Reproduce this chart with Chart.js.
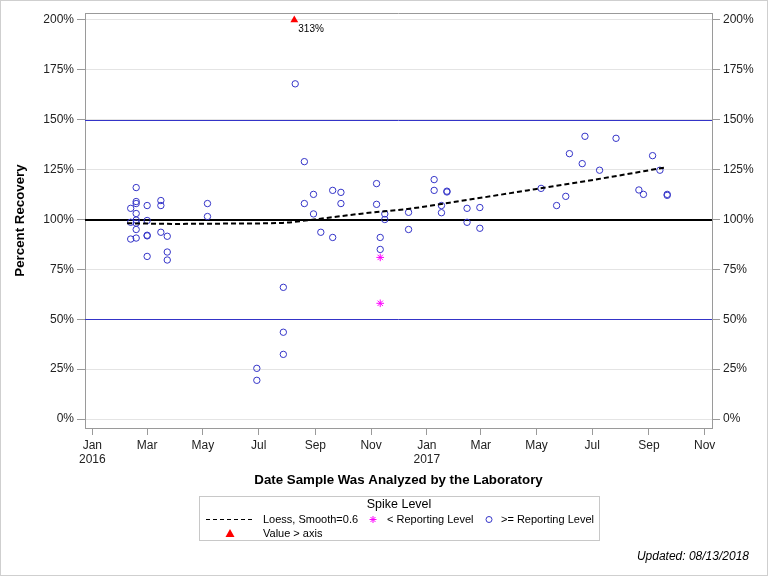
<!DOCTYPE html>
<html>
<head>
<meta charset="utf-8">
<script src="https://cdn.jsdelivr.net/npm/chart.js@4.4.1/dist/chart.umd.min.js"></script>
<style>
  html, body { margin: 0; padding: 0; background: #fff; }
</style>
</head>
<body>
<canvas id="chart" width="768" height="576"></canvas>
<script>
// percent recovery of spiked samples

// >= reporting level
const geDates = [
  '2016-02-12', '2016-02-12', '2016-02-12',
  '2016-02-18', '2016-02-18', '2016-02-18', '2016-02-18', '2016-02-18', '2016-02-18', '2016-02-18', '2016-02-18',
  '2016-03-01', '2016-03-01', '2016-03-01', '2016-03-01', '2016-03-01',
  '2016-03-16', '2016-03-16', '2016-03-16',
  '2016-03-23', '2016-03-23', '2016-03-23',
  '2016-05-06', '2016-05-06',
  '2016-06-29', '2016-06-29',
  '2016-07-28', '2016-07-28', '2016-07-28',
  '2016-08-10',
  '2016-08-20', '2016-08-20',
  '2016-08-30', '2016-08-30',
  '2016-09-07',
  '2016-09-20', '2016-09-20',
  '2016-09-29', '2016-09-29',
  '2016-11-07', '2016-11-07',
  '2016-11-11', '2016-11-11',
  '2016-11-16', '2016-11-16',
  '2016-12-12', '2016-12-12',
  '2017-01-09', '2017-01-09',
  '2017-01-17', '2017-01-17',
  '2017-01-23', '2017-01-23',
  '2017-02-14', '2017-02-14',
  '2017-02-28', '2017-02-28',
  '2017-05-06', '2017-05-23', '2017-06-02', '2017-06-06', '2017-06-20', '2017-06-23',
  '2017-07-09', '2017-07-27', '2017-08-21', '2017-08-26', '2017-09-05', '2017-09-13',
  '2017-09-21', '2017-09-21'
];
const geValues = [
  105.6, 98.6, 90.2,
  116, 109, 108, 103, 99.7, 98.2, 95, 90.7,
  107, 99.5, 92.1, 91.8, 81.5,
  109.5, 107, 93.6,
  91.6, 83.7, 79.7,
  108, 101.5,
  25.4, 19.4,
  66, 43.5, 32.4,
  168,
  129, 108,
  112.6, 102.8,
  93.6,
  114.6, 91,
  113.6, 108,
  118, 107.6,
  91, 85,
  102.8, 100,
  103.6, 95,
  120, 114.6,
  107, 103.4,
  114.2, 113.8,
  105.6, 98.6,
  106, 95.6,
  115.6, 107, 111.6, 133, 128, 141.7,
  124.7, 140.7, 114.8, 112.6, 132, 124.7,
  112.6, 112.1
];

// < reporting level
const ltDates = ['2016-11-11', '2016-11-11'];
const ltValues = [81, 58];

// values above the axis maximum
const overDates = ['2016-08-09'];
const overValues = [313];

// loess fit, smooth = 0.6
const loessDates = ['2016-02-08', '2016-04-01', '2016-06-09', '2016-07-27', '2016-08-25', '2016-10-19',
  '2016-11-10', '2016-12-11', '2017-02-14', '2017-03-21', '2017-05-05', '2017-07-08', '2017-09-20'];
const loessValues = [98.1, 97.8, 98.0, 98.3, 99.7, 102.8, 103.9, 105.3, 109.8, 112.3, 115.6, 120.3, 126.2];

const tickDates = ['2016-01-01', '2016-03-01', '2016-05-01', '2016-07-01', '2016-09-01', '2016-11-01',
  '2017-01-01', '2017-03-01', '2017-05-01', '2017-07-01', '2017-09-01', '2017-11-01'];
const tickLabels = [['Jan', '2016'], 'Mar', 'May', 'Jul', 'Sep', 'Nov', ['Jan', '2017'], 'Mar', 'May', 'Jul', 'Sep', 'Nov'];
const yTicks = [0, 25, 50, 75, 100, 125, 150, 175, 200];
const refLines = [50, 100, 150];

const legendLabels = ['Loess, Smooth=0.6', '< Reporting Level', '>= Reporting Level', 'Value > axis'];

// days since 2016-01-01
const day0 = Date.parse('2016-01-01');
const toDay = s => (Date.parse(s) - day0) / 86400000;
const pts = (ds, vs) => ds.map((d, i) => ({ x: toDay(d), y: vs[i] }));

const xMin = toDay('2015-12-24');
const xMax = toDay('2017-11-09');
const yMin = -4.5, yMax = 203.5;
const fam = '"Liberation Sans", Arial, sans-serif';
const BLUE = '#3434c8';

const extras = {
  id: 'extras',
  beforeDatasetsDraw(chart) {
    const { ctx, chartArea: a, scales: { y } } = chart;
    ctx.save();
    refLines.forEach(v => {
      const py = Math.round(y.getPixelForValue(v));
      ctx.beginPath();
      if (v === 100) {
        ctx.strokeStyle = '#000';
        ctx.lineWidth = 2;
        ctx.moveTo(a.left, py); ctx.lineTo(a.right, py);
      } else {
        ctx.strokeStyle = BLUE;
        ctx.lineWidth = 1;
        ctx.moveTo(a.left, py + 0.5); ctx.lineTo(a.right, py + 0.5);
      }
      ctx.stroke();
    });
    ctx.strokeStyle = '#9a9a9a';
    ctx.lineWidth = 1;
    ctx.beginPath();
    ctx.moveTo(a.left, Math.round(a.top) + 0.5);
    ctx.lineTo(a.right, Math.round(a.top) + 0.5);
    ctx.stroke();
    ctx.restore();
  },
  afterDraw(chart) {
    const { ctx, scales: { x, y } } = chart;
    ctx.save();
    // label for off-scale value
    overDates.forEach((d, i) => {
      ctx.font = '10px ' + fam;
      ctx.fillStyle = '#000';
      ctx.textBaseline = 'middle';
      ctx.textAlign = 'left';
      ctx.fillText(overValues[i] + '%', x.getPixelForValue(toDay(d)) + 4, y.getPixelForValue(200) + 9);
    });

    // legend
    ctx.strokeStyle = '#c8c8c8';
    ctx.lineWidth = 1;
    ctx.strokeRect(199.5, 496.5, 400, 44);
    ctx.fillStyle = '#000';
    ctx.textBaseline = 'middle';
    ctx.textAlign = 'center';
    ctx.font = '12.5px ' + fam;
    ctx.fillText('Spike Level', 399, 505);
    ctx.textAlign = 'left';
    ctx.font = '11px ' + fam;
    ctx.fillText(legendLabels[0], 263, 519.5);
    ctx.fillText(legendLabels[1], 387, 519.5);
    ctx.fillText(legendLabels[2], 501, 519.5);
    ctx.fillText(legendLabels[3], 263, 533.5);

    ctx.strokeStyle = '#000';
    ctx.setLineDash([4, 3]);
    ctx.beginPath(); ctx.moveTo(206, 519.5); ctx.lineTo(254, 519.5); ctx.stroke();
    ctx.setLineDash([]);

    ctx.strokeStyle = '#ff00ff';
    ctx.beginPath();
    for (let k = 0; k < 4; k++) {
      const ang = k * Math.PI / 4;
      ctx.moveTo(373 - 3.5 * Math.cos(ang), 519.5 - 3.5 * Math.sin(ang));
      ctx.lineTo(373 + 3.5 * Math.cos(ang), 519.5 + 3.5 * Math.sin(ang));
    }
    ctx.stroke();

    ctx.strokeStyle = BLUE;
    ctx.beginPath(); ctx.arc(489, 519.5, 3, 0, Math.PI * 2); ctx.stroke();

    ctx.fillStyle = '#ff0000';
    ctx.beginPath();
    ctx.moveTo(230, 529); ctx.lineTo(234.5, 537); ctx.lineTo(225.5, 537); ctx.closePath();
    ctx.fill();

    // footnote
    ctx.fillStyle = '#000';
    ctx.font = 'italic 12px ' + fam;
    ctx.textAlign = 'right';
    ctx.fillText('Updated: 08/13/2018', 749, 557);

    // outer border
    ctx.strokeStyle = '#cfcfcf';
    ctx.strokeRect(0.5, 0.5, 767, 575);
    ctx.restore();
  }
};

const yAxis = (pos, width) => ({
  type: 'linear',
  position: pos,
  min: yMin,
  max: yMax,
  afterBuildTicks: s => { s.ticks = yTicks.map(v => ({ value: v })); },
  afterFit: s => { s.width = width; },
  ticks: { padding: 3, color: '#222', font: { family: fam, size: 12 }, callback: v => v + '%' },
  grid: { display: true, drawOnChartArea: pos === 'left', color: '#e4e4e4', tickColor: '#9a9a9a', tickLength: 8 },
  border: { color: '#9a9a9a' }
});

new Chart(document.getElementById('chart'), {
  type: 'scatter',
  data: {
    datasets: [
      {
        label: legendLabels[0],
        data: pts(loessDates, loessValues),
        showLine: true,
        borderColor: '#000',
        borderWidth: 2,
        borderDash: [5, 3],
        pointRadius: 0,
        cubicInterpolationMode: 'monotone',
        order: 1
      },
      {
        label: legendLabels[2],
        data: pts(geDates, geValues),
        pointStyle: 'circle',
        pointRadius: 3.2,
        borderColor: BLUE,
        backgroundColor: 'rgba(0,0,0,0)',
        borderWidth: 1,
        order: 2
      },
      {
        label: legendLabels[1],
        data: pts(ltDates, ltValues),
        pointStyle: 'star',
        pointRadius: 3.8,
        borderColor: '#ff00ff',
        borderWidth: 1,
        order: 2
      },
      {
        label: legendLabels[3],
        data: overDates.map(d => ({ x: toDay(d), y: 200 })),
        pointStyle: 'triangle',
        pointRadius: 4.5,
        borderColor: '#ff0000',
        backgroundColor: '#ff0000',
        borderWidth: 0,
        order: 2
      }
    ]
  },
  options: {
    responsive: false,
    animation: false,
    layout: { padding: { left: 0, right: 0, top: 13, bottom: 86 } },
    plugins: { legend: { display: false }, tooltip: { enabled: false } },
    scales: {
      x: {
        type: 'linear',
        position: 'bottom',
        min: xMin,
        max: xMax,
        afterBuildTicks: s => { s.ticks = tickDates.map(d => ({ value: toDay(d) })); },
        afterFit: s => { s.height = 62; },
        ticks: {
          autoSkip: false, maxRotation: 0, padding: 3, color: '#222',
          font: { family: fam, size: 12 },
          callback: (v, i) => tickLabels[i]
        },
        grid: { drawOnChartArea: false, drawTicks: true, tickLength: 7, tickColor: '#9a9a9a' },
        border: { color: '#9a9a9a' },
        title: {
          display: true, text: 'Date Sample Was Analyzed by the Laboratory', color: '#000',
          font: { family: fam, size: 13.3, weight: 'bold' }, padding: { top: 0, bottom: 2 }
        }
      },
      y: Object.assign(yAxis('left', 85), {
        title: {
          display: true, text: 'Percent Recovery', color: '#000',
          font: { family: fam, size: 13.3, weight: 'bold' }, padding: { top: 12, bottom: 0 }
        }
      }),
      y2: yAxis('right', 56)
    }
  },
  plugins: [extras]
});
</script>
</body>
</html>
